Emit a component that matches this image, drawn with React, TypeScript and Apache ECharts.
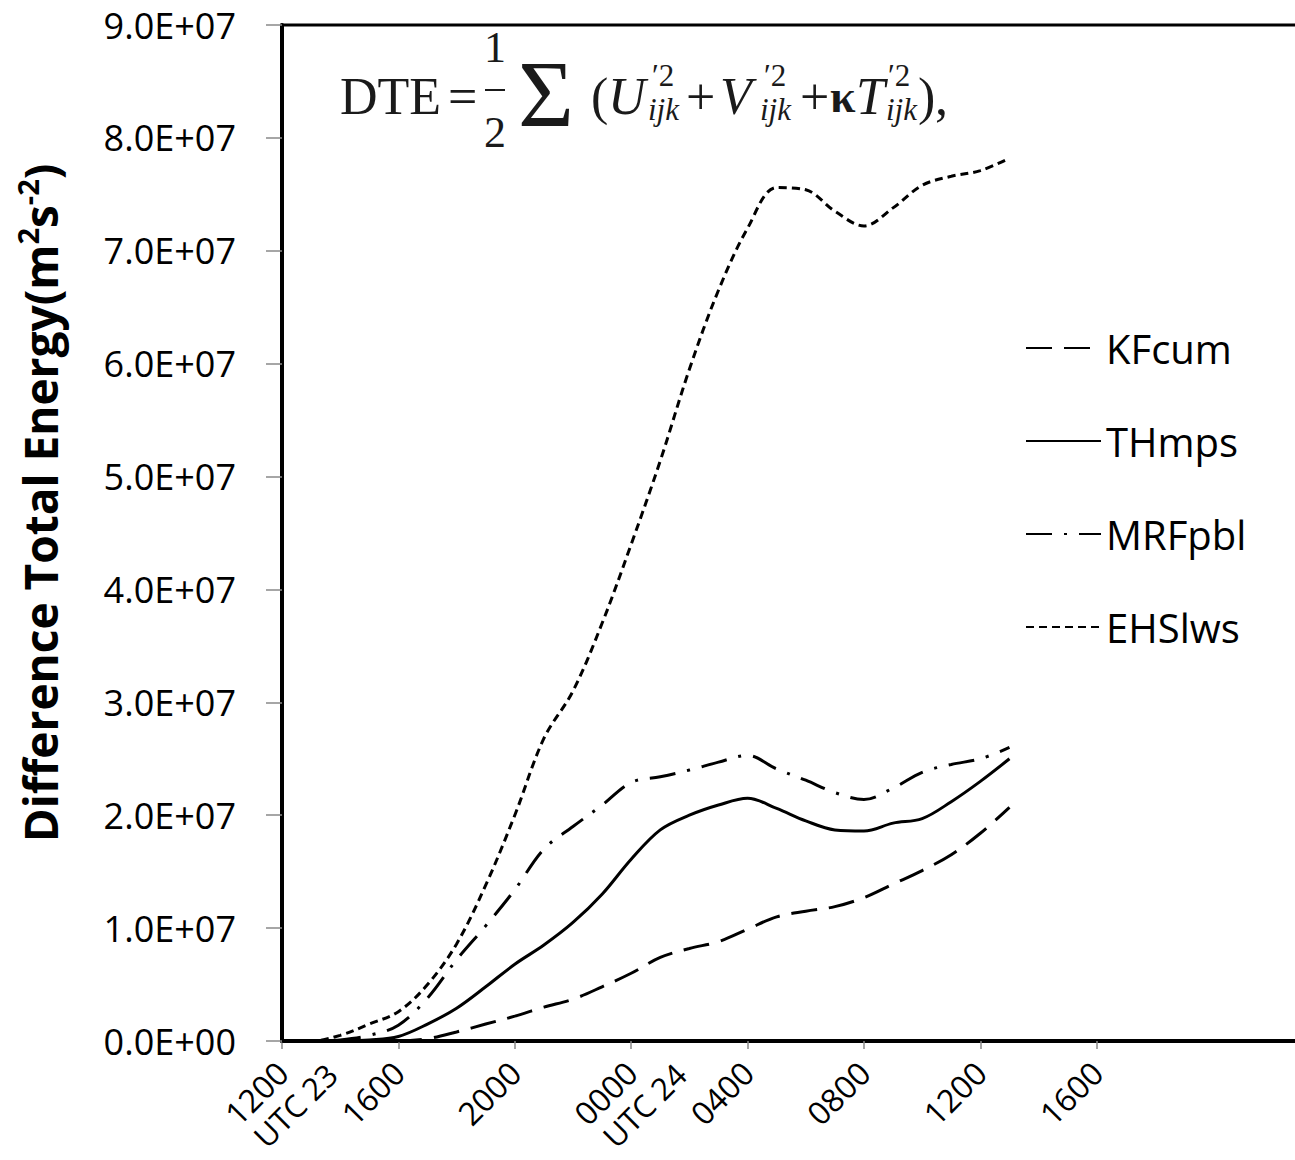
import React, { useEffect, useRef } from "react";
import * as echarts from "echarts";

// Hours since 1200 UTC 23
const HOURS = [0, 1, 2, 3, 4, 5, 6, 7, 8, 9, 10, 11, 12, 13, 14, 15, 16, 17, 18, 19, 20, 21, 22, 23, 24, 25];
// Values in units of 1e7 m^2 s^-2
const SCALE = 1e7;
const KFCUM = [0, 0, 0, 0, 0, 0.02, 0.08, 0.15, 0.22, 0.3, 0.37, 0.48, 0.6, 0.74, 0.82, 0.88, 0.99, 1.1, 1.15, 1.19, 1.27, 1.39, 1.51, 1.65, 1.84, 2.07];
const THMPS = [0, 0, 0, 0.01, 0.04, 0.15, 0.29, 0.48, 0.68, 0.85, 1.05, 1.3, 1.61, 1.87, 2.0, 2.09, 2.15, 2.06, 1.95, 1.87, 1.86, 1.93, 1.97, 2.12, 2.3, 2.5];
const MRFPBL = [0, 0, 0.01, 0.05, 0.14, 0.38, 0.72, 1.02, 1.34, 1.7, 1.9, 2.09, 2.29, 2.34, 2.4, 2.47, 2.53, 2.41, 2.31, 2.2, 2.14, 2.24, 2.38, 2.45, 2.5, 2.6];
const EHSLWS = [0, 0, 0.05, 0.15, 0.26, 0.5, 0.86, 1.38, 2.0, 2.68, 3.1, 3.7, 4.4, 5.14, 5.95, 6.65, 7.2, 7.56, 7.54, 7.35, 7.22, 7.38, 7.58, 7.66, 7.71, 7.82];

const SERIES_NAMES = ["KFcum", "THmps", "MRFpbl", "EHSlws"];
const TICK_HOURS = [0, 4, 8, 12, 16, 20, 24, 28];
const TICK_LABELS = ["1200", "1600", "2000", "0000", "0400", "0800", "1200", "1600"];
const DAY_HOURS = [0, 12];
const DAY_LABELS = ["UTC 23", "UTC 24"];
const DAY_LABEL_SHIFT = 1.7; // label offset along the axis, in hours
const Y_MAX = 9e7;
const Y_STEP = 1e7;

const SANS = "'Open Sans', 'DejaVu Sans', sans-serif";
const SERIF = "'Liberation Serif', 'DejaVu Serif', serif";

function sci(v: number): string {
  if (v === 0) return "0.0E+00";
  const e = Math.floor(Math.log10(v) + 1e-9);
  const m = v / Math.pow(10, e);
  return m.toFixed(1) + "E+" + (e < 10 ? "0" + e : String(e));
}

function txt(text: string, x: number, y: number, size: number, opts: any = {}) {
  return {
    type: "text",
    x,
    y,
    silent: true,
    style: {
      text,
      fontSize: size,
      fontFamily: SERIF,
      fontStyle: opts.italic ? "italic" : "normal",
      fontWeight: opts.bold ? "bold" : "normal",
      fill: "#1a1a1a",
      align: opts.align || "left",
      verticalAlign: "middle",
    },
  };
}

export default function App() {
  const ref = useRef<HTMLDivElement>(null);
  useEffect(() => {
    if (!ref.current) return;
    const chart = echarts.init(ref.current, null, { renderer: "svg" });
    const mk = (name: string, vals: number[], type: any) => ({
      name,
      type: "line",
      smooth: 0.35,
      symbol: "none",
      xAxisIndex: 0,
      lineStyle: { color: "#000", width: 3, type },
      itemStyle: { color: "#000" },
      data: HOURS.map((h, i) => [h, vals[i] * SCALE]),
    });
    const formula: any[] = [
      txt("DTE", 340, 96, 52),
      txt("=", 448, 96, 52),
      txt("1", 495, 47, 44, { align: "center" }),
      { type: "line", silent: true, shape: { x1: 485, y1: 90, x2: 505, y2: 90 }, style: { stroke: "#1a1a1a", lineWidth: 2 } },
      txt("2", 495, 132, 44, { align: "center" }),
      txt("Σ", 518, 94, 96),
      txt("(", 591, 96, 52),
      txt("U", 608, 96, 52, { italic: true }),
      txt("′2", 652, 75, 31),
      txt("ijk", 648, 109, 31, { italic: true }),
      txt("+", 686, 96, 52),
      txt("V", 720, 96, 52, { italic: true }),
      txt("′2", 764, 75, 31),
      txt("ijk", 760, 109, 31, { italic: true }),
      txt("+", 800, 96, 52),
      txt("κ", 830, 96, 46, { bold: true }),
      txt("T", 856, 96, 52, { italic: true }),
      txt("′2", 888, 75, 31),
      txt("ijk", 886, 109, 31, { italic: true }),
      txt(")", 918, 96, 52),
      txt(",", 935, 96, 52),
    ];
    const baseX = {
      type: "value",
      min: 0,
      max: 35.5,
      splitLine: { show: false },
    };
    const option: any = {
      animation: false,
      backgroundColor: "#fff",
      grid: {
        show: true,
        left: 282,
        top: 25,
        bottom: 119,
        right: -20,
        outerBoundsMode: "none",
        containLabel: false,
        borderColor: "#000",
        borderWidth: 3,
        backgroundColor: "transparent",
      },
      legend: {
        data: SERIES_NAMES,
        orient: "vertical",
        left: 1020,
        top: 320,
        itemWidth: 75,
        itemHeight: 20,
        itemGap: 47,
        itemStyle: { opacity: 0 },
        textStyle: { fontSize: 40, fontFamily: SANS, color: "#000", lineHeight: 46 },
      },
      xAxis: [
        {
          ...baseX,
          axisLine: { show: true, lineStyle: { color: "#000", width: 4 } },
          axisTick: {
            show: true,
            customValues: TICK_HOURS,
            length: 8,
            lineStyle: { color: "#888", width: 1.5 },
          },
          axisLabel: {
            customValues: TICK_HOURS,
            rotate: 45,
            margin: 26,
            fontSize: 32,
            fontFamily: SANS,
            color: "#000",
            formatter: (v: number) => {
              const i = TICK_HOURS.indexOf(v);
              return i >= 0 ? TICK_LABELS[i] : "";
            },
          },
        },
        {
          ...baseX,
          position: "bottom",
          axisLine: { show: false },
          axisTick: { show: false },
          axisLabel: {
            customValues: DAY_HOURS.map((h) => h + DAY_LABEL_SHIFT),
            rotate: 45,
            margin: 28,
            fontSize: 31,
            lineHeight: 34,
            fontFamily: SANS,
            color: "#000",
            formatter: (v: number) => {
              const i = DAY_HOURS.findIndex((h) => Math.abs(h + DAY_LABEL_SHIFT - v) < 1e-6);
              return i >= 0 ? DAY_LABELS[i] : "";
            },
          },
        },
      ],
      yAxis: {
        type: "value",
        min: 0,
        max: Y_MAX,
        interval: Y_STEP,
        splitLine: { show: false },
        axisLine: { show: true, lineStyle: { color: "#000", width: 4 } },
        axisTick: { show: true, length: 16, lineStyle: { color: "#888", width: 1.5 } },
        axisLabel: {
          margin: 46,
          fontSize: 36,
          fontFamily: SANS,
          color: "#000",
          formatter: (v: number) => sci(v),
        },
      },
      graphic: [
        {
          type: "text",
          x: 40,
          y: 503,
          rotation: Math.PI / 2,
          silent: true,
          style: {
            text: "{b|Difference Total Energy(m}{s|2}{b|s}{s|-2}{b|)}",
            align: "center",
            verticalAlign: "middle",
            fill: "#000",
            rich: {
              b: { fontSize: 46, fontWeight: "bold", fontFamily: SANS, fill: "#000", lineHeight: 54 },
              s: { fontSize: 29, fontWeight: "bold", fontFamily: SANS, fill: "#000", verticalAlign: "top", lineHeight: 34 },
            },
          },
        },
        ...formula,
      ],
      series: [
        mk(SERIES_NAMES[0], KFCUM, [26, 12]),
        mk(SERIES_NAMES[1], THMPS, "solid"),
        mk(SERIES_NAMES[2], MRFPBL, [26, 12, 3, 12]),
        mk(SERIES_NAMES[3], EHSLWS, [8, 5]),
      ],
    };
    chart.setOption(option);
    return () => chart.dispose();
  }, []);
  return (
    <div
      ref={ref}
      style={{ position: "absolute", left: 0, top: 0, width: 1295, height: 1160, background: "#fff" }}
    />
  );
}
